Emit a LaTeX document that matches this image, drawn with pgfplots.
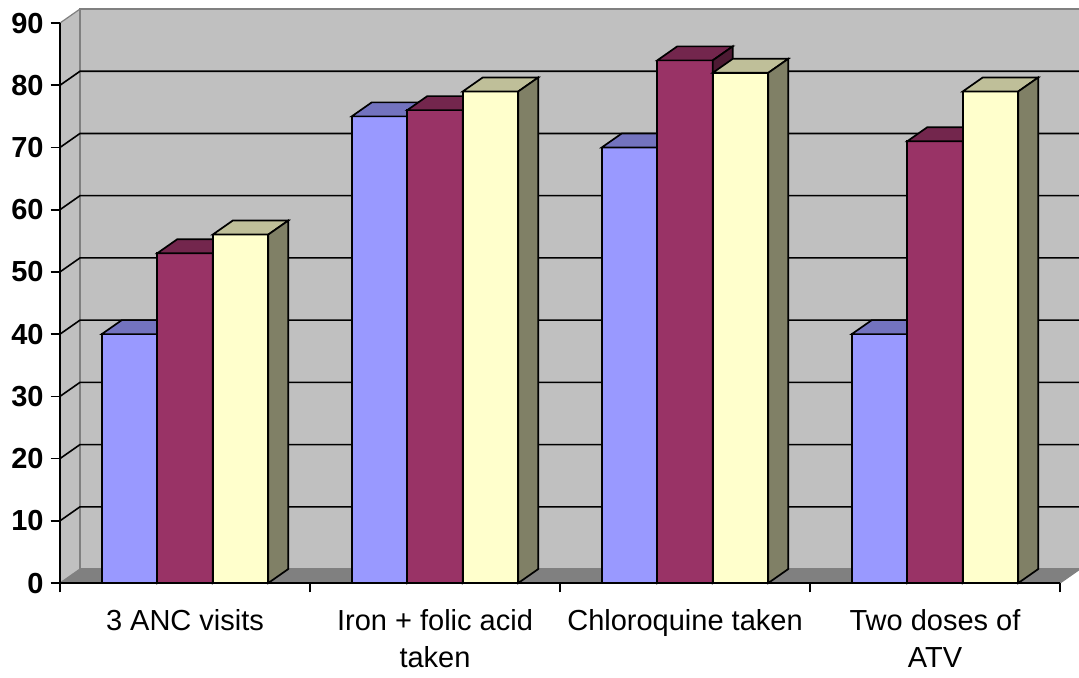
\documentclass[border=0pt]{standalone}
\usepackage{fontspec}
\setmainfont{Liberation Sans}
\usepackage{pgfplots}
\pgfplotsset{compat=1.18}

\definecolor{barA}{HTML}{9999FF}
\definecolor{topA}{HTML}{7373BF}
\definecolor{sideA}{HTML}{4D4D80}
\definecolor{barB}{HTML}{993366}
\definecolor{topB}{HTML}{73264D}
\definecolor{sideB}{HTML}{4D1A33}
\definecolor{barC}{HTML}{FFFFCC}
\definecolor{topC}{HTML}{BFBF99}
\definecolor{sideC}{HTML}{808066}
\definecolor{wallc}{HTML}{C0C0C0}
\definecolor{floorc}{HTML}{808080}

% a 3-D box: front face, top face and side face, drawn at the data point
\newcommand\defbox[4]{%
\pgfdeclareplotmark{#1}{%
  \pgfmathsetlengthmacro\Ha{-\val*3.11111pt}%
  \pgfmathsetlengthmacro\Hb{7pt-\val*3.11111pt}%
  \pgfsetlinewidth{0.85pt}\pgfsetstrokecolor{black}\pgfsetmiterjoin
  \pgfsetfillcolor{#2}%
  \pgfpathmoveto{\pgfqpoint{-13.875pt}{0pt}}%
  \pgfpathlineto{\pgfqpoint{13.875pt}{0pt}}%
  \pgfpathlineto{\pgfqpoint{13.875pt}{\Ha}}%
  \pgfpathlineto{\pgfqpoint{-13.875pt}{\Ha}}%
  \pgfpathclose
  \pgfusepath{fill,stroke}%
  \pgfsetfillcolor{#3}%
  \pgfpathmoveto{\pgfqpoint{-13.875pt}{0pt}}%
  \pgfpathlineto{\pgfqpoint{-3.875pt}{7pt}}%
  \pgfpathlineto{\pgfqpoint{23.875pt}{7pt}}%
  \pgfpathlineto{\pgfqpoint{13.875pt}{0pt}}%
  \pgfpathclose
  \pgfusepath{fill,stroke}%
  \pgfsetfillcolor{#4}%
  \pgfpathmoveto{\pgfqpoint{13.875pt}{0pt}}%
  \pgfpathlineto{\pgfqpoint{23.875pt}{7pt}}%
  \pgfpathlineto{\pgfqpoint{23.875pt}{\Hb}}%
  \pgfpathlineto{\pgfqpoint{13.875pt}{\Ha}}%
  \pgfpathclose
  \pgfusepath{fill,stroke}%
}}
\defbox{boxA}{barA}{topA}{sideA}
\defbox{boxB}{barB}{topB}{sideB}
\defbox{boxC}{barC}{topC}{sideC}

\begin{document}
\begin{tikzpicture}
\begin{axis}[
  x=125pt, y=3.11111pt,
  xmin=0, xmax=4, ymin=0, ymax=90,
  clip=false,
  axis on top,
  axis x line*=bottom, axis y line*=left,
  axis line style={line width=0.85pt, black},
  tick style={line width=0.85pt, black},
  tick align=outside,
  major tick length=4.7pt,
  ytick={0,10,...,90},
  yticklabel style={font=\bfseries\fontsize{14.5}{17}\selectfont},
  /pgf/number format/assume math mode=true,
  xtick={0,1,2,3,4},
  xticklabels={,,,,},
  extra x ticks={0.5,1.5,2.5,3.5},
  extra x tick labels={3 ANC visits, {Iron + folic acid\\taken}, Chloroquine taken, {Two doses of\\ATV}},
  extra x tick style={tick style={draw=none}},
  xticklabel style={font=\fontsize{14.5}{18.5}\selectfont, align=center, yshift=-5pt},
]
% walls
\fill[wallc] (axis cs:0.08,2.25) rectangle (axis cs:4.08,92.25);
\fill[wallc] (axis cs:0,0) -- (axis cs:0.08,2.25) -- (axis cs:0.08,92.25) -- (axis cs:0,90) -- cycle;
\fill[floorc] (axis cs:0,0) -- (axis cs:4,0) -- (axis cs:4.08,2.25) -- (axis cs:0.08,2.25) -- cycle;
\draw[floorc, line width=0.6pt] (axis cs:0.08,2.25) rectangle (axis cs:4.08,92.25);
\draw[floorc, line width=0.6pt] (axis cs:0,0) -- (axis cs:0.08,2.25) (axis cs:0,90) -- (axis cs:0.08,92.25) (axis cs:4,0) -- (axis cs:4.08,2.25);
\draw[black, line width=0.8pt] (axis cs:0,10) -- (axis cs:0.08,12.25) -- (axis cs:4.08,12.25);
\draw[black, line width=0.8pt] (axis cs:0,20) -- (axis cs:0.08,22.25) -- (axis cs:4.08,22.25);
\draw[black, line width=0.8pt] (axis cs:0,30) -- (axis cs:0.08,32.25) -- (axis cs:4.08,32.25);
\draw[black, line width=0.8pt] (axis cs:0,40) -- (axis cs:0.08,42.25) -- (axis cs:4.08,42.25);
\draw[black, line width=0.8pt] (axis cs:0,50) -- (axis cs:0.08,52.25) -- (axis cs:4.08,52.25);
\draw[black, line width=0.8pt] (axis cs:0,60) -- (axis cs:0.08,62.25) -- (axis cs:4.08,62.25);
\draw[black, line width=0.8pt] (axis cs:0,70) -- (axis cs:0.08,72.25) -- (axis cs:4.08,72.25);
\draw[black, line width=0.8pt] (axis cs:0,80) -- (axis cs:0.08,82.25) -- (axis cs:4.08,82.25);

\addplot[ybar, bar width=0.222, bar shift=0pt, fill=barA, draw=black, line width=0.85pt,
  mark=boxA, visualization depends on={rawy \as \val}] coordinates {
  (0.278,40) (1.278,75) (2.278,70) (3.278,40)};
\addplot[ybar, bar width=0.222, bar shift=0pt, fill=barB, draw=black, line width=0.85pt,
  mark=boxB, visualization depends on={rawy \as \val}] coordinates {
  (0.5,53) (1.5,76) (2.5,84) (3.5,71)};
\addplot[ybar, bar width=0.222, bar shift=0pt, fill=barC, draw=black, line width=0.85pt,
  mark=boxC, visualization depends on={rawy \as \val}] coordinates {
  (0.722,56) (1.722,79) (2.722,82) (3.722,79)};

\coordinate (bbsw) at (axis cs:-0.24,-15.107);
\coordinate (bbne) at (axis cs:4.076,93.70);
\end{axis}
\pgfresetboundingbox
\useasboundingbox (bbsw) rectangle (bbne);
\end{tikzpicture}
\end{document}
